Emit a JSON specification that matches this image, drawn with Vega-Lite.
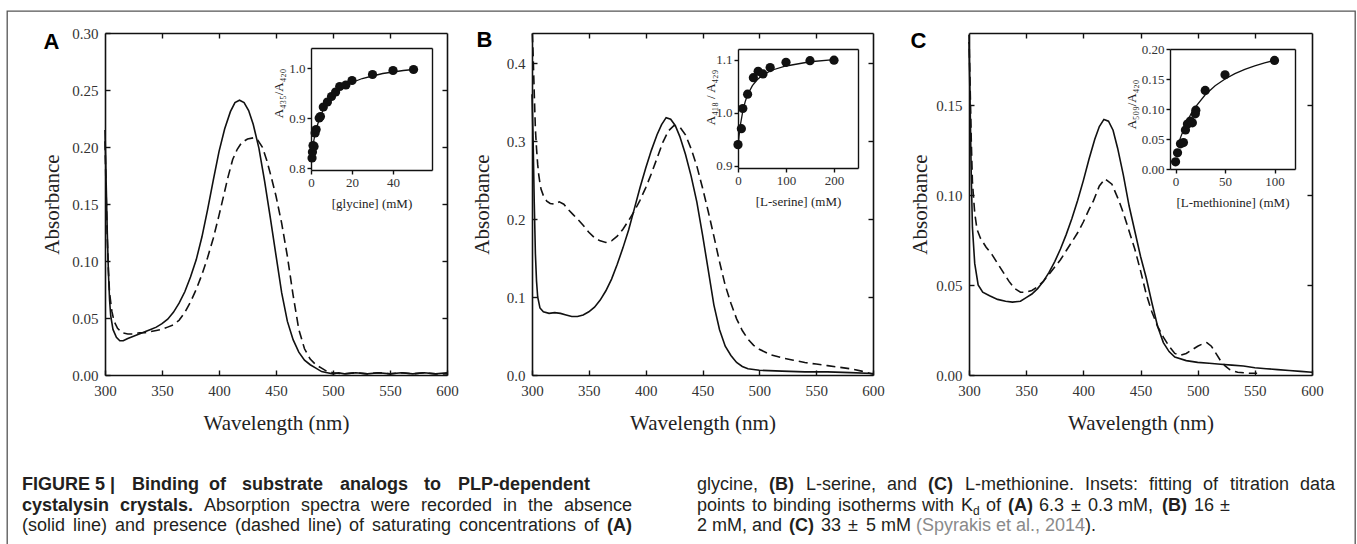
{
"$schema":"https://vega.github.io/schema/vega-lite/v6.json",
"width":1348,"height":534,"autosize":"none",
"padding":{"left":7,"top":11,"right":2,"bottom":0},
"background":"white",
"config":{
 "view":{"stroke":"#555","strokeWidth":1.3},
 "axis":{"grid":false,"domainColor":"#111","domainWidth":1.6,"tickColor":"#111","tickWidth":1.4,"tickSize":-5,"labelFont":"Liberation Serif","labelFontSize":15,"labelColor":"#333","labelPadding":13,"labelOverlap":false,"labelFlush":false,"labelBound":false,"titleFont":"Liberation Serif","titleFontWeight":"normal","titleColor":"#222","titleFontSize":21},
 "text":{"font":"Liberation Sans","fontSize":18,"align":"left","baseline":"alphabetic","color":"#231f20"}
},
"datasets":{
 "specA":[
{"wl":300,"a":0.215,"s":"absence"},{"wl":301,"a":0.17,"s":"absence"},{"wl":302,"a":0.125,"s":"absence"},{"wl":303,"a":0.09,"s":"absence"},{"wl":304,"a":0.066,"s":"absence"},{"wl":305,"a":0.052,"s":"absence"},{"wl":307,"a":0.04,"s":"absence"},{"wl":310,"a":0.033,"s":"absence"},{"wl":313,"a":0.03,"s":"absence"},{"wl":316,"a":0.03,"s":"absence"},{"wl":320,"a":0.032,"s":"absence"},{"wl":325,"a":0.034,"s":"absence"},{"wl":330,"a":0.036,"s":"absence"},{"wl":335,"a":0.038,"s":"absence"},{"wl":340,"a":0.04,"s":"absence"},{"wl":345,"a":0.042,"s":"absence"},{"wl":350,"a":0.045,"s":"absence"},{"wl":355,"a":0.049,"s":"absence"},{"wl":360,"a":0.055,"s":"absence"},{"wl":365,"a":0.063,"s":"absence"},{"wl":370,"a":0.073,"s":"absence"},{"wl":375,"a":0.086,"s":"absence"},{"wl":380,"a":0.101,"s":"absence"},{"wl":385,"a":0.121,"s":"absence"},{"wl":390,"a":0.145,"s":"absence"},{"wl":395,"a":0.171,"s":"absence"},{"wl":400,"a":0.196,"s":"absence"},{"wl":405,"a":0.216,"s":"absence"},{"wl":410,"a":0.231,"s":"absence"},{"wl":414,"a":0.239,"s":"absence"},{"wl":418,"a":0.241,"s":"absence"},{"wl":422,"a":0.239,"s":"absence"},{"wl":426,"a":0.232,"s":"absence"},{"wl":430,"a":0.22,"s":"absence"},{"wl":435,"a":0.199,"s":"absence"},{"wl":440,"a":0.17,"s":"absence"},{"wl":445,"a":0.138,"s":"absence"},{"wl":450,"a":0.105,"s":"absence"},{"wl":455,"a":0.072,"s":"absence"},{"wl":460,"a":0.047,"s":"absence"},{"wl":465,"a":0.031,"s":"absence"},{"wl":470,"a":0.02,"s":"absence"},{"wl":475,"a":0.013,"s":"absence"},{"wl":480,"a":0.009,"s":"absence"},{"wl":485,"a":0.006,"s":"absence"},{"wl":490,"a":0.003,"s":"absence"},{"wl":495,"a":0.002,"s":"absence"},{"wl":500,"a":0.001,"s":"absence"},{"wl":505,"a":0.002,"s":"absence"},{"wl":510,"a":0.001,"s":"absence"},{"wl":520,"a":0.002,"s":"absence"},{"wl":530,"a":0.001,"s":"absence"},{"wl":540,"a":0.002,"s":"absence"},{"wl":550,"a":0.001,"s":"absence"},{"wl":560,"a":0.002,"s":"absence"},{"wl":570,"a":0.001,"s":"absence"},{"wl":580,"a":0.002,"s":"absence"},{"wl":590,"a":0.001,"s":"absence"},{"wl":600,"a":0.002,"s":"absence"},
{"wl":300,"a":0.205,"s":"presence"},{"wl":301,"a":0.16,"s":"presence"},{"wl":302,"a":0.12,"s":"presence"},{"wl":303,"a":0.092,"s":"presence"},{"wl":304,"a":0.072,"s":"presence"},{"wl":306,"a":0.056,"s":"presence"},{"wl":308,"a":0.047,"s":"presence"},{"wl":311,"a":0.041,"s":"presence"},{"wl":315,"a":0.037,"s":"presence"},{"wl":320,"a":0.036,"s":"presence"},{"wl":325,"a":0.036,"s":"presence"},{"wl":330,"a":0.037,"s":"presence"},{"wl":335,"a":0.037,"s":"presence"},{"wl":340,"a":0.038,"s":"presence"},{"wl":345,"a":0.039,"s":"presence"},{"wl":350,"a":0.04,"s":"presence"},{"wl":355,"a":0.042,"s":"presence"},{"wl":360,"a":0.044,"s":"presence"},{"wl":365,"a":0.048,"s":"presence"},{"wl":370,"a":0.055,"s":"presence"},{"wl":375,"a":0.064,"s":"presence"},{"wl":380,"a":0.075,"s":"presence"},{"wl":385,"a":0.088,"s":"presence"},{"wl":390,"a":0.103,"s":"presence"},{"wl":395,"a":0.12,"s":"presence"},{"wl":400,"a":0.14,"s":"presence"},{"wl":404,"a":0.157,"s":"presence"},{"wl":408,"a":0.174,"s":"presence"},{"wl":412,"a":0.189,"s":"presence"},{"wl":416,"a":0.198,"s":"presence"},{"wl":420,"a":0.204,"s":"presence"},{"wl":425,"a":0.207,"s":"presence"},{"wl":430,"a":0.208,"s":"presence"},{"wl":434,"a":0.206,"s":"presence"},{"wl":438,"a":0.2,"s":"presence"},{"wl":442,"a":0.188,"s":"presence"},{"wl":446,"a":0.173,"s":"presence"},{"wl":450,"a":0.157,"s":"presence"},{"wl":455,"a":0.133,"s":"presence"},{"wl":460,"a":0.104,"s":"presence"},{"wl":465,"a":0.07,"s":"presence"},{"wl":470,"a":0.04,"s":"presence"},{"wl":475,"a":0.023,"s":"presence"},{"wl":480,"a":0.014,"s":"presence"},{"wl":485,"a":0.009,"s":"presence"},{"wl":490,"a":0.006,"s":"presence"},{"wl":495,"a":0.003,"s":"presence"},{"wl":500,"a":0.002,"s":"presence"},{"wl":510,"a":0.001,"s":"presence"},{"wl":520,"a":0.002,"s":"presence"},{"wl":530,"a":0.001,"s":"presence"},{"wl":540,"a":0.002,"s":"presence"},{"wl":550,"a":0.001,"s":"presence"},{"wl":560,"a":0.002,"s":"presence"},{"wl":570,"a":0.001,"s":"presence"},{"wl":580,"a":0.002,"s":"presence"},{"wl":590,"a":0.001,"s":"presence"},{"wl":600,"a":0.001,"s":"presence"}
 ],
 "specB":[
{"wl":300,"a":0.36,"s":"absence"},{"wl":301,"a":0.3,"s":"absence"},{"wl":302,"a":0.22,"s":"absence"},{"wl":303,"a":0.155,"s":"absence"},{"wl":304,"a":0.12,"s":"absence"},{"wl":305,"a":0.1,"s":"absence"},{"wl":307,"a":0.086,"s":"absence"},{"wl":310,"a":0.081,"s":"absence"},{"wl":315,"a":0.079,"s":"absence"},{"wl":320,"a":0.08,"s":"absence"},{"wl":325,"a":0.079,"s":"absence"},{"wl":330,"a":0.077,"s":"absence"},{"wl":335,"a":0.075,"s":"absence"},{"wl":340,"a":0.075,"s":"absence"},{"wl":345,"a":0.077,"s":"absence"},{"wl":350,"a":0.081,"s":"absence"},{"wl":355,"a":0.087,"s":"absence"},{"wl":360,"a":0.096,"s":"absence"},{"wl":365,"a":0.108,"s":"absence"},{"wl":370,"a":0.123,"s":"absence"},{"wl":375,"a":0.142,"s":"absence"},{"wl":380,"a":0.163,"s":"absence"},{"wl":385,"a":0.186,"s":"absence"},{"wl":390,"a":0.213,"s":"absence"},{"wl":395,"a":0.24,"s":"absence"},{"wl":400,"a":0.265,"s":"absence"},{"wl":405,"a":0.288,"s":"absence"},{"wl":410,"a":0.308,"s":"absence"},{"wl":414,"a":0.321,"s":"absence"},{"wl":418,"a":0.33,"s":"absence"},{"wl":422,"a":0.328,"s":"absence"},{"wl":426,"a":0.32,"s":"absence"},{"wl":430,"a":0.306,"s":"absence"},{"wl":435,"a":0.283,"s":"absence"},{"wl":440,"a":0.255,"s":"absence"},{"wl":445,"a":0.222,"s":"absence"},{"wl":450,"a":0.18,"s":"absence"},{"wl":455,"a":0.135,"s":"absence"},{"wl":460,"a":0.09,"s":"absence"},{"wl":465,"a":0.058,"s":"absence"},{"wl":470,"a":0.037,"s":"absence"},{"wl":475,"a":0.025,"s":"absence"},{"wl":480,"a":0.016,"s":"absence"},{"wl":485,"a":0.011,"s":"absence"},{"wl":490,"a":0.008,"s":"absence"},{"wl":500,"a":0.006,"s":"absence"},{"wl":520,"a":0.005,"s":"absence"},{"wl":540,"a":0.004,"s":"absence"},{"wl":560,"a":0.004,"s":"absence"},{"wl":580,"a":0.003,"s":"absence"},{"wl":600,"a":0.002,"s":"absence"},
{"wl":300.3,"a":0.438,"s":"presence"},{"wl":301,"a":0.41,"s":"presence"},{"wl":302,"a":0.36,"s":"presence"},{"wl":303,"a":0.315,"s":"presence"},{"wl":304,"a":0.29,"s":"presence"},{"wl":305,"a":0.27,"s":"presence"},{"wl":306,"a":0.256,"s":"presence"},{"wl":307,"a":0.246,"s":"presence"},{"wl":308,"a":0.238,"s":"presence"},{"wl":310,"a":0.23,"s":"presence"},{"wl":313,"a":0.223,"s":"presence"},{"wl":316,"a":0.22,"s":"presence"},{"wl":320,"a":0.219,"s":"presence"},{"wl":324,"a":0.222,"s":"presence"},{"wl":328,"a":0.219,"s":"presence"},{"wl":332,"a":0.212,"s":"presence"},{"wl":336,"a":0.206,"s":"presence"},{"wl":340,"a":0.2,"s":"presence"},{"wl":345,"a":0.192,"s":"presence"},{"wl":350,"a":0.183,"s":"presence"},{"wl":355,"a":0.176,"s":"presence"},{"wl":360,"a":0.172,"s":"presence"},{"wl":365,"a":0.17,"s":"presence"},{"wl":370,"a":0.172,"s":"presence"},{"wl":375,"a":0.178,"s":"presence"},{"wl":380,"a":0.187,"s":"presence"},{"wl":385,"a":0.198,"s":"presence"},{"wl":390,"a":0.21,"s":"presence"},{"wl":395,"a":0.224,"s":"presence"},{"wl":400,"a":0.24,"s":"presence"},{"wl":405,"a":0.258,"s":"presence"},{"wl":410,"a":0.278,"s":"presence"},{"wl":415,"a":0.298,"s":"presence"},{"wl":420,"a":0.313,"s":"presence"},{"wl":425,"a":0.32,"s":"presence"},{"wl":430,"a":0.318,"s":"presence"},{"wl":435,"a":0.308,"s":"presence"},{"wl":440,"a":0.29,"s":"presence"},{"wl":445,"a":0.268,"s":"presence"},{"wl":450,"a":0.24,"s":"presence"},{"wl":455,"a":0.21,"s":"presence"},{"wl":460,"a":0.178,"s":"presence"},{"wl":465,"a":0.145,"s":"presence"},{"wl":470,"a":0.115,"s":"presence"},{"wl":475,"a":0.092,"s":"presence"},{"wl":480,"a":0.072,"s":"presence"},{"wl":485,"a":0.057,"s":"presence"},{"wl":490,"a":0.046,"s":"presence"},{"wl":495,"a":0.038,"s":"presence"},{"wl":500,"a":0.033,"s":"presence"},{"wl":510,"a":0.026,"s":"presence"},{"wl":520,"a":0.022,"s":"presence"},{"wl":530,"a":0.019,"s":"presence"},{"wl":540,"a":0.016,"s":"presence"},{"wl":550,"a":0.014,"s":"presence"},{"wl":560,"a":0.012,"s":"presence"},{"wl":570,"a":0.01,"s":"presence"},{"wl":580,"a":0.008,"s":"presence"},{"wl":590,"a":0.005,"s":"presence"},{"wl":600,"a":0.001,"s":"presence"}
 ],
 "specC":[
{"wl":300,"a":0.185,"s":"absence"},{"wl":301,"a":0.15,"s":"absence"},{"wl":302,"a":0.11,"s":"absence"},{"wl":303,"a":0.082,"s":"absence"},{"wl":305,"a":0.062,"s":"absence"},{"wl":308,"a":0.05,"s":"absence"},{"wl":312,"a":0.046,"s":"absence"},{"wl":318,"a":0.044,"s":"absence"},{"wl":325,"a":0.042,"s":"absence"},{"wl":332,"a":0.041,"s":"absence"},{"wl":338,"a":0.0405,"s":"absence"},{"wl":345,"a":0.041,"s":"absence"},{"wl":350,"a":0.043,"s":"absence"},{"wl":355,"a":0.045,"s":"absence"},{"wl":360,"a":0.048,"s":"absence"},{"wl":365,"a":0.052,"s":"absence"},{"wl":370,"a":0.057,"s":"absence"},{"wl":375,"a":0.063,"s":"absence"},{"wl":380,"a":0.07,"s":"absence"},{"wl":385,"a":0.078,"s":"absence"},{"wl":390,"a":0.087,"s":"absence"},{"wl":395,"a":0.097,"s":"absence"},{"wl":400,"a":0.108,"s":"absence"},{"wl":405,"a":0.12,"s":"absence"},{"wl":410,"a":0.131,"s":"absence"},{"wl":414,"a":0.138,"s":"absence"},{"wl":418,"a":0.142,"s":"absence"},{"wl":422,"a":0.141,"s":"absence"},{"wl":426,"a":0.136,"s":"absence"},{"wl":430,"a":0.126,"s":"absence"},{"wl":435,"a":0.111,"s":"absence"},{"wl":440,"a":0.094,"s":"absence"},{"wl":445,"a":0.08,"s":"absence"},{"wl":450,"a":0.066,"s":"absence"},{"wl":455,"a":0.054,"s":"absence"},{"wl":460,"a":0.04,"s":"absence"},{"wl":465,"a":0.027,"s":"absence"},{"wl":470,"a":0.018,"s":"absence"},{"wl":475,"a":0.013,"s":"absence"},{"wl":480,"a":0.01,"s":"absence"},{"wl":490,"a":0.008,"s":"absence"},{"wl":500,"a":0.007,"s":"absence"},{"wl":510,"a":0.0065,"s":"absence"},{"wl":520,"a":0.006,"s":"absence"},{"wl":530,"a":0.0055,"s":"absence"},{"wl":540,"a":0.005,"s":"absence"},{"wl":550,"a":0.004,"s":"absence"},{"wl":560,"a":0.0035,"s":"absence"},{"wl":570,"a":0.003,"s":"absence"},{"wl":580,"a":0.0025,"s":"absence"},{"wl":590,"a":0.002,"s":"absence"},{"wl":600,"a":0.0015,"s":"absence"},
{"wl":300,"a":0.189,"s":"presence"},{"wl":301,"a":0.16,"s":"presence"},{"wl":302,"a":0.13,"s":"presence"},{"wl":303,"a":0.107,"s":"presence"},{"wl":305,"a":0.09,"s":"presence"},{"wl":307,"a":0.081,"s":"presence"},{"wl":310,"a":0.076,"s":"presence"},{"wl":315,"a":0.071,"s":"presence"},{"wl":320,"a":0.067,"s":"presence"},{"wl":325,"a":0.062,"s":"presence"},{"wl":330,"a":0.057,"s":"presence"},{"wl":335,"a":0.052,"s":"presence"},{"wl":340,"a":0.048,"s":"presence"},{"wl":345,"a":0.046,"s":"presence"},{"wl":350,"a":0.046,"s":"presence"},{"wl":355,"a":0.047,"s":"presence"},{"wl":360,"a":0.049,"s":"presence"},{"wl":365,"a":0.052,"s":"presence"},{"wl":370,"a":0.056,"s":"presence"},{"wl":375,"a":0.06,"s":"presence"},{"wl":380,"a":0.064,"s":"presence"},{"wl":385,"a":0.069,"s":"presence"},{"wl":390,"a":0.074,"s":"presence"},{"wl":395,"a":0.079,"s":"presence"},{"wl":400,"a":0.085,"s":"presence"},{"wl":405,"a":0.092,"s":"presence"},{"wl":409,"a":0.097,"s":"presence"},{"wl":414,"a":0.105,"s":"presence"},{"wl":419,"a":0.109,"s":"presence"},{"wl":425,"a":0.106,"s":"presence"},{"wl":431,"a":0.097,"s":"presence"},{"wl":435,"a":0.09,"s":"presence"},{"wl":440,"a":0.08,"s":"presence"},{"wl":445,"a":0.07,"s":"presence"},{"wl":450,"a":0.058,"s":"presence"},{"wl":455,"a":0.045,"s":"presence"},{"wl":460,"a":0.035,"s":"presence"},{"wl":465,"a":0.027,"s":"presence"},{"wl":470,"a":0.021,"s":"presence"},{"wl":475,"a":0.016,"s":"presence"},{"wl":480,"a":0.012,"s":"presence"},{"wl":485,"a":0.011,"s":"presence"},{"wl":490,"a":0.012,"s":"presence"},{"wl":495,"a":0.014,"s":"presence"},{"wl":500,"a":0.016,"s":"presence"},{"wl":505,"a":0.0175,"s":"presence"},{"wl":508,"a":0.018,"s":"presence"},{"wl":512,"a":0.016,"s":"presence"},{"wl":516,"a":0.012,"s":"presence"},{"wl":520,"a":0.008,"s":"presence"},{"wl":524,"a":0.005,"s":"presence"},{"wl":528,"a":0.003,"s":"presence"},{"wl":535,"a":0.0015,"s":"presence"},{"wl":545,"a":0.001,"s":"presence"},{"wl":552,"a":0.001,"s":"presence"}
 ],
 "insA":[{"c":0.5,"r":0.82},{"c":0.7,"r":0.832},{"c":1,"r":0.845},{"c":1.5,"r":0.843},{"c":2,"r":0.87},{"c":2.5,"r":0.877},{"c":4,"r":0.9},{"c":4.6,"r":0.903},{"c":6,"r":0.922},{"c":8,"r":0.932},{"c":10,"r":0.943},{"c":12,"r":0.952},{"c":14,"r":0.963},{"c":17,"r":0.966},{"c":20,"r":0.975},{"c":30,"r":0.987},{"c":40,"r":0.995},{"c":50,"r":0.997}],
 "fitA":[{"c":0,"r":0.82},{"c":1,"r":0.847},{"c":2,"r":0.868},{"c":3,"r":0.884},{"c":4,"r":0.897},{"c":6,"r":0.917},{"c":8,"r":0.931},{"c":10,"r":0.942},{"c":13,"r":0.954},{"c":16,"r":0.963},{"c":20,"r":0.971},{"c":25,"r":0.979},{"c":30,"r":0.984},{"c":35,"r":0.989},{"c":40,"r":0.992},{"c":45,"r":0.995},{"c":50,"r":0.997}],
 "insB":[{"c":0,"r":0.94},{"c":7,"r":0.97},{"c":10,"r":1.008},{"c":20,"r":1.035},{"c":32,"r":1.066},{"c":42,"r":1.078},{"c":52,"r":1.073},{"c":67,"r":1.085},{"c":100,"r":1.095},{"c":150,"r":1.098},{"c":200,"r":1.099}],
 "fitB":[{"c":0,"r":0.935},{"c":2,"r":0.955},{"c":5,"r":0.977},{"c":10,"r":1.003},{"c":15,"r":1.021},{"c":20,"r":1.034},{"c":30,"r":1.051},{"c":40,"r":1.062},{"c":50,"r":1.07},{"c":70,"r":1.08},{"c":100,"r":1.088},{"c":150,"r":1.096},{"c":200,"r":1.1}],
 "insC":[{"c":0,"r":0.012},{"c":2,"r":0.027},{"c":5,"r":0.042},{"c":8,"r":0.044},{"c":10,"r":0.065},{"c":12,"r":0.075},{"c":15,"r":0.08},{"c":17,"r":0.077},{"c":20,"r":0.092},{"c":20.5,"r":0.098},{"c":30,"r":0.131},{"c":50,"r":0.157},{"c":100,"r":0.181}],
 "fitC":[{"c":2,"r":0.037},{"c":5,"r":0.0523},{"c":10,"r":0.0733},{"c":15,"r":0.0899},{"c":20,"r":0.1033},{"c":30,"r":0.1238},{"c":40,"r":0.1387},{"c":50,"r":0.15},{"c":60,"r":0.159},{"c":70,"r":0.166},{"c":80,"r":0.1719},{"c":90,"r":0.1768},{"c":100,"r":0.181}],
 "caption":[
  {"col":0,"line":0,"seg":"a0","text":"FIGURE 5 |"},{"col":0,"line":0,"seg":"a3","text":"Binding"},{"col":0,"line":0,"seg":"a4","text":"of"},{"col":0,"line":0,"seg":"a5","text":"substrate"},{"col":0,"line":0,"seg":"a6","text":"analogs"},{"col":0,"line":0,"seg":"a7","text":"to"},{"col":0,"line":0,"seg":"a8","text":"PLP-dependent"},
  {"col":0,"line":1,"seg":"b0","text":"cystalysin"},{"col":0,"line":1,"seg":"b1","text":"crystals."},{"col":0,"line":1,"seg":"b2","text":"Absorption"},{"col":0,"line":1,"seg":"b3","text":"spectra"},{"col":0,"line":1,"seg":"b4","text":"were"},{"col":0,"line":1,"seg":"b5","text":"recorded"},{"col":0,"line":1,"seg":"b6","text":"in"},{"col":0,"line":1,"seg":"b7","text":"the"},{"col":0,"line":1,"seg":"b8","text":"absence"},
  {"col":0,"line":2,"seg":"c0","text":"(solid"},{"col":0,"line":2,"seg":"c1","text":"line)"},{"col":0,"line":2,"seg":"c2","text":"and"},{"col":0,"line":2,"seg":"c3","text":"presence"},{"col":0,"line":2,"seg":"c4","text":"(dashed"},{"col":0,"line":2,"seg":"c5","text":"line)"},{"col":0,"line":2,"seg":"c6","text":"of"},{"col":0,"line":2,"seg":"c7","text":"saturating"},{"col":0,"line":2,"seg":"c8","text":"concentrations"},{"col":0,"line":2,"seg":"c9","text":"of"},{"col":0,"line":2,"seg":"c10","text":"(A)"},
  {"col":1,"line":0,"seg":"d0","text":"glycine,"},{"col":1,"line":0,"seg":"d1","text":"(B)"},{"col":1,"line":0,"seg":"d2","text":"L-serine,"},{"col":1,"line":0,"seg":"d3","text":"and"},{"col":1,"line":0,"seg":"d4","text":"(C)"},{"col":1,"line":0,"seg":"d5","text":"L-methionine."},{"col":1,"line":0,"seg":"d6","text":"Insets:"},{"col":1,"line":0,"seg":"d7","text":"fitting"},{"col":1,"line":0,"seg":"d8","text":"of"},{"col":1,"line":0,"seg":"d9","text":"titration"},{"col":1,"line":0,"seg":"d10","text":"data"},
  {"col":1,"line":1,"seg":"e0","text":"points"},{"col":1,"line":1,"seg":"e1","text":"to"},{"col":1,"line":1,"seg":"e2","text":"binding"},{"col":1,"line":1,"seg":"e3","text":"isotherms"},{"col":1,"line":1,"seg":"e4","text":"with"},{"col":1,"line":1,"seg":"e5","text":"K"},{"col":1,"line":1,"seg":"e6","text":"d"},{"col":1,"line":1,"seg":"e7","text":"of"},{"col":1,"line":1,"seg":"e8","text":"(A)"},{"col":1,"line":1,"seg":"e9","text":"6.3"},{"col":1,"line":1,"seg":"e10","text":"±"},{"col":1,"line":1,"seg":"e11","text":"0.3 mM,"},{"col":1,"line":1,"seg":"e12","text":"(B)"},{"col":1,"line":1,"seg":"e13","text":"16"},{"col":1,"line":1,"seg":"e14","text":"±"},
  {"col":1,"line":2,"seg":"f0","text":"2 mM,"},{"col":1,"line":2,"seg":"f1","text":"and"},{"col":1,"line":2,"seg":"f2","text":"(C)"},{"col":1,"line":2,"seg":"f3","text":"33"},{"col":1,"line":2,"seg":"f4","text":"±"},{"col":1,"line":2,"seg":"f5","text":"5 mM"},{"col":1,"line":2,"seg":"f6","text":"(Spyrakis et al., 2014"},{"col":1,"line":2,"seg":"f7","text":")."}
 ]
},
"layer":[
 {"data":{"name":"specA"},"resolve":{"axis":{"x":"independent","y":"independent"}},
  "layer":[
   {"transform":[{"filter":"datum.s=='absence'"}],"mark":{"type":"line","stroke":"#111","strokeWidth":1.6},
    "encoding":{
     "x":{"field":"wl","type":"quantitative","scale":{"domain":[300,600],"range":[98,440],"nice":false,"zero":false},"axis":{"orient":"bottom","offset":-170,"values":[300,350,400,450,500,550,600],"format":"d","title":"Wavelength (nm)","titleY":48,"titleBaseline":"middle"}},
     "y":{"field":"a","type":"quantitative","scale":{"domain":[0,0.3],"range":[364,22],"nice":false,"zero":false},"axis":{"orient":"left","offset":-98,"values":[0,0.05,0.1,0.15,0.2,0.25,0.3],"format":".2f","labelPadding":12,"title":"Absorbance","titleX":-53,"titleAngle":270,"titleBaseline":"middle"}}}},
   {"transform":[{"filter":"datum.s=='presence'"}],"mark":{"type":"line","stroke":"#111","strokeWidth":1.6,"strokeDash":[9,5]},
    "encoding":{
     "x":{"field":"wl","type":"quantitative","scale":{"domain":[300,600],"range":[98,440],"nice":false,"zero":false},"axis":{"orient":"top","offset":-22,"values":[350,400,450,500,550],"labels":false,"title":"A","titleX":44,"titleY":8,"titleFont":"Liberation Sans","titleFontWeight":"bold","titleFontSize":22,"titleColor":"#000","titleAngle":0,"titleBaseline":"middle","titleAlign":"center"}},
     "y":{"field":"a","type":"quantitative","scale":{"domain":[0,0.3],"range":[364,22],"nice":false,"zero":false},"axis":{"orient":"right","offset":-908,"values":[0.05,0.1,0.15,0.2,0.25],"labels":false,"title":null}}}}
  ]},
 {"resolve":{"axis":{"x":"independent","y":"independent"}},
  "layer":[
   {"data":{"name":"insA"},"mark":{"type":"circle","size":85,"color":"#111","opacity":1},
    "encoding":{
     "x":{"field":"c","type":"quantitative","scale":{"domain":[0,59],"range":[304,425],"nice":false,"zero":false},"axis":{"orient":"bottom","offset":-375,"values":[0,20,40],"format":"d","tickSize":4,"labelPadding":2,"labelFontSize":13,"domainWidth":1.4,"title":"[glycine] (mM)","titleFontSize":13,"titleY":33,"titleBaseline":"middle"}},
     "y":{"field":"r","type":"quantitative","scale":{"domain":[0.796,1.04],"range":[159,37],"nice":false,"zero":false},"axis":{"orient":"left","offset":-304,"values":[0.8,0.9,1.0],"format":".1f","tickSize":4,"labelPadding":2,"labelFontSize":13,"domainWidth":1.4,"title":"A₄₃₅/A₄₂₀","titleFontSize":13,"titleX":-33,"titleY":82,"titleAngle":270,"titleBaseline":"middle"}}}},
   {"data":{"name":"fitA"},"mark":{"type":"line","stroke":"#111","strokeWidth":1.3},
    "encoding":{
     "x":{"field":"c","type":"quantitative","scale":{"domain":[0,59],"range":[304,425],"nice":false,"zero":false},"axis":{"orient":"top","offset":-37,"ticks":false,"labels":false,"domainWidth":1.4,"title":null}},
     "y":{"field":"r","type":"quantitative","scale":{"domain":[0.796,1.04],"range":[159,37],"nice":false,"zero":false},"axis":{"orient":"right","offset":-923,"ticks":false,"labels":false,"domainWidth":1.4,"title":null}}}}
  ]},
 {"data":{"name":"specB"},"resolve":{"axis":{"x":"independent","y":"independent"}},
  "layer":[
   {"transform":[{"filter":"datum.s=='absence'"}],"mark":{"type":"line","stroke":"#111","strokeWidth":1.6},
    "encoding":{
     "x":{"field":"wl","type":"quantitative","scale":{"domain":[300,600],"range":[525,866],"nice":false,"zero":false},"axis":{"orient":"bottom","offset":-170,"values":[300,350,400,450,500,550,600],"format":"d","title":"Wavelength (nm)","titleY":48,"titleBaseline":"middle"}},
     "y":{"field":"a","type":"quantitative","scale":{"domain":[0,0.4385],"range":[364,22],"nice":false,"zero":false},"axis":{"orient":"left","offset":-525,"values":[0,0.1,0.2,0.3,0.4],"format":".1f","labelPadding":12,"title":"Absorbance","titleX":-50,"titleAngle":270,"titleBaseline":"middle"}}}},
   {"transform":[{"filter":"datum.s=='presence'"}],"mark":{"type":"line","stroke":"#111","strokeWidth":1.6,"strokeDash":[9,5]},
    "encoding":{
     "x":{"field":"wl","type":"quantitative","scale":{"domain":[300,600],"range":[525,866],"nice":false,"zero":false},"axis":{"orient":"top","offset":-22,"values":[350,400,450,500,550],"labels":false,"title":"B","titleX":477,"titleY":6,"titleFont":"Liberation Sans","titleFontWeight":"bold","titleFontSize":22,"titleColor":"#000","titleAngle":0,"titleBaseline":"middle","titleAlign":"center"}},
     "y":{"field":"a","type":"quantitative","scale":{"domain":[0,0.4385],"range":[364,22],"nice":false,"zero":false},"axis":{"orient":"right","offset":-482,"values":[0.1,0.2,0.3,0.4],"labels":false,"title":null}}}}
  ]},
 {"resolve":{"axis":{"x":"independent","y":"independent"}},
  "layer":[
   {"data":{"name":"insB"},"mark":{"type":"circle","size":85,"color":"#111","opacity":1},
    "encoding":{
     "x":{"field":"c","type":"quantitative","scale":{"domain":[0,250],"range":[731,851],"nice":false,"zero":false},"axis":{"orient":"bottom","offset":-377,"values":[0,100,200],"format":"d","tickSize":4,"labelPadding":2,"labelFontSize":13,"domainWidth":1.4,"title":"[L-serine] (mM)","titleFontSize":13,"titleY":33,"titleBaseline":"middle"}},
     "y":{"field":"r","type":"quantitative","scale":{"domain":[0.896,1.12],"range":[157,38],"nice":false,"zero":false},"axis":{"orient":"left","offset":-731,"values":[0.9,1.0,1.1],"format":".1f","tickSize":4,"labelPadding":2,"labelFontSize":13,"domainWidth":1.4,"title":"A₄₁₈ / A₄₂₉","titleFontSize":13,"titleX":-28,"titleY":86,"titleAngle":270,"titleBaseline":"middle"}}}},
   {"data":{"name":"fitB"},"mark":{"type":"line","stroke":"#111","strokeWidth":1.3},
    "encoding":{
     "x":{"field":"c","type":"quantitative","scale":{"domain":[0,250],"range":[731,851],"nice":false,"zero":false},"axis":{"orient":"top","offset":-38,"ticks":false,"labels":false,"domainWidth":1.4,"title":null}},
     "y":{"field":"r","type":"quantitative","scale":{"domain":[0.896,1.12],"range":[157,38],"nice":false,"zero":false},"axis":{"orient":"right","offset":-497,"ticks":false,"labels":false,"domainWidth":1.4,"title":null}}}}
  ]},
 {"data":{"name":"specC"},"resolve":{"axis":{"x":"independent","y":"independent"}},
  "layer":[
   {"transform":[{"filter":"datum.s=='absence'"}],"mark":{"type":"line","stroke":"#111","strokeWidth":1.6},
    "encoding":{
     "x":{"field":"wl","type":"quantitative","scale":{"domain":[300,600],"range":[962,1305],"nice":false,"zero":false},"axis":{"orient":"bottom","offset":-170,"values":[300,350,400,450,500,550,600],"format":"d","title":"Wavelength (nm)","titleY":48,"titleBaseline":"middle"}},
     "y":{"field":"a","type":"quantitative","scale":{"domain":[0,0.19],"range":[364,22],"nice":false,"zero":false},"axis":{"orient":"left","offset":-962,"values":[0,0.05,0.1,0.15],"format":".2f","labelPadding":12,"title":"Absorbance","titleX":-49,"titleAngle":270,"titleBaseline":"middle"}}}},
   {"transform":[{"filter":"datum.s=='presence'"}],"mark":{"type":"line","stroke":"#111","strokeWidth":1.6,"strokeDash":[9,5]},
    "encoding":{
     "x":{"field":"wl","type":"quantitative","scale":{"domain":[300,600],"range":[962,1305],"nice":false,"zero":false},"axis":{"orient":"top","offset":-22,"values":[350,400,450,500,550],"labels":false,"title":"C","titleX":911,"titleY":7,"titleFont":"Liberation Sans","titleFontWeight":"bold","titleFontSize":22,"titleColor":"#000","titleAngle":0,"titleBaseline":"middle","titleAlign":"center"}},
     "y":{"field":"a","type":"quantitative","scale":{"domain":[0,0.19],"range":[364,22],"nice":false,"zero":false},"axis":{"orient":"right","offset":-43,"values":[0.05,0.1,0.15],"labels":false,"title":null}}}}
  ]},
 {"resolve":{"axis":{"x":"independent","y":"independent"}},
  "layer":[
   {"data":{"name":"insC"},"mark":{"type":"circle","size":85,"color":"#111","opacity":1},
    "encoding":{
     "x":{"field":"c","type":"quantitative","scale":{"domain":[-5.6,120.7],"range":[1163,1288],"nice":false,"zero":false},"axis":{"orient":"bottom","offset":-376,"values":[0,50,100],"format":"d","tickSize":4,"labelPadding":2,"labelFontSize":13,"domainWidth":1.4,"title":"[L-methionine] (mM)","titleFontSize":13,"titleY":33,"titleBaseline":"middle"}},
     "y":{"field":"r","type":"quantitative","scale":{"domain":[0,0.2],"range":[158,38],"nice":false,"zero":false},"axis":{"orient":"left","offset":-1163,"values":[0,0.05,0.1,0.15,0.2],"format":".2f","tickSize":4,"labelPadding":2,"labelFontSize":13,"domainWidth":1.4,"title":"A₅₀₉/A₄₂₀","titleFontSize":13,"titleX":-39,"titleY":93,"titleAngle":270,"titleBaseline":"middle"}}}},
   {"data":{"name":"fitC"},"mark":{"type":"line","stroke":"#111","strokeWidth":1.3},
    "encoding":{
     "x":{"field":"c","type":"quantitative","scale":{"domain":[-5.6,120.7],"range":[1163,1288],"nice":false,"zero":false},"axis":{"orient":"top","offset":-38,"ticks":false,"labels":false,"domainWidth":1.4,"title":null}},
     "y":{"field":"r","type":"quantitative","scale":{"domain":[0,0.2],"range":[158,38],"nice":false,"zero":false},"axis":{"orient":"right","offset":-60,"ticks":false,"labels":false,"domainWidth":1.4,"title":null}}}}
  ]},
 {"data":{"name":"caption"},
  "encoding":{
   "x":{"field":"col","type":"quantitative","scale":{"domain":[0,1],"range":[15,690],"nice":false,"zero":false},"axis":null},
   "y":{"field":"line","type":"quantitative","scale":{"domain":[0,2],"range":[479,520],"nice":false,"zero":false},"axis":null},
   "text":{"field":"text"}},
  "layer":[
   {"transform":[{"filter":"datum.seg=='a0' || datum.seg=='b0'"}],"mark":{"type":"text","fontWeight":"bold"}},
   {"transform":[{"filter":"datum.seg=='c0' || datum.seg=='d0' || datum.seg=='e0' || datum.seg=='f0'"}],"mark":{"type":"text"}},
   {"transform":[{"filter":"datum.seg=='a3'"}],"mark":{"type":"text","fontWeight":"bold","dx":110}},
   {"transform":[{"filter":"datum.seg=='a4'"}],"mark":{"type":"text","fontWeight":"bold","dx":187}},
   {"transform":[{"filter":"datum.seg=='a5'"}],"mark":{"type":"text","fontWeight":"bold","dx":220}},
   {"transform":[{"filter":"datum.seg=='a6'"}],"mark":{"type":"text","fontWeight":"bold","dx":318}},
   {"transform":[{"filter":"datum.seg=='a7'"}],"mark":{"type":"text","fontWeight":"bold","dx":402}},
   {"transform":[{"filter":"datum.seg=='a8'"}],"mark":{"type":"text","fontWeight":"bold","dx":436}},
   {"transform":[{"filter":"datum.seg=='b1'"}],"mark":{"type":"text","fontWeight":"bold","dx":98}},
   {"transform":[{"filter":"datum.seg=='b2'"}],"mark":{"type":"text","dx":182}},
   {"transform":[{"filter":"datum.seg=='b3'"}],"mark":{"type":"text","dx":279}},
   {"transform":[{"filter":"datum.seg=='b4'"}],"mark":{"type":"text","dx":349}},
   {"transform":[{"filter":"datum.seg=='b5'"}],"mark":{"type":"text","dx":399}},
   {"transform":[{"filter":"datum.seg=='b6'"}],"mark":{"type":"text","dx":481}},
   {"transform":[{"filter":"datum.seg=='b7'"}],"mark":{"type":"text","dx":506}},
   {"transform":[{"filter":"datum.seg=='b8'"}],"mark":{"type":"text","dx":542}},
   {"transform":[{"filter":"datum.seg=='c1'"}],"mark":{"type":"text","dx":51}},
   {"transform":[{"filter":"datum.seg=='c2'"}],"mark":{"type":"text","dx":93}},
   {"transform":[{"filter":"datum.seg=='c3'"}],"mark":{"type":"text","dx":131}},
   {"transform":[{"filter":"datum.seg=='c4'"}],"mark":{"type":"text","dx":213}},
   {"transform":[{"filter":"datum.seg=='c5'"}],"mark":{"type":"text","dx":286}},
   {"transform":[{"filter":"datum.seg=='c6'"}],"mark":{"type":"text","dx":327}},
   {"transform":[{"filter":"datum.seg=='c7'"}],"mark":{"type":"text","dx":350}},
   {"transform":[{"filter":"datum.seg=='c8'"}],"mark":{"type":"text","dx":437}},
   {"transform":[{"filter":"datum.seg=='c9'"}],"mark":{"type":"text","dx":562}},
   {"transform":[{"filter":"datum.seg=='c10'"}],"mark":{"type":"text","fontWeight":"bold","dx":585}},
   {"transform":[{"filter":"datum.seg=='d1'"}],"mark":{"type":"text","fontWeight":"bold","dx":72}},
   {"transform":[{"filter":"datum.seg=='d2'"}],"mark":{"type":"text","dx":109}},
   {"transform":[{"filter":"datum.seg=='d3'"}],"mark":{"type":"text","dx":190}},
   {"transform":[{"filter":"datum.seg=='d4'"}],"mark":{"type":"text","fontWeight":"bold","dx":231}},
   {"transform":[{"filter":"datum.seg=='d5'"}],"mark":{"type":"text","dx":268}},
   {"transform":[{"filter":"datum.seg=='d6'"}],"mark":{"type":"text","dx":388}},
   {"transform":[{"filter":"datum.seg=='d7'"}],"mark":{"type":"text","dx":452}},
   {"transform":[{"filter":"datum.seg=='d8'"}],"mark":{"type":"text","dx":506}},
   {"transform":[{"filter":"datum.seg=='d9'"}],"mark":{"type":"text","dx":533}},
   {"transform":[{"filter":"datum.seg=='d10'"}],"mark":{"type":"text","dx":603}},
   {"transform":[{"filter":"datum.seg=='e1'"}],"mark":{"type":"text","dx":55}},
   {"transform":[{"filter":"datum.seg=='e2'"}],"mark":{"type":"text","dx":76}},
   {"transform":[{"filter":"datum.seg=='e3'"}],"mark":{"type":"text","dx":141}},
   {"transform":[{"filter":"datum.seg=='e4'"}],"mark":{"type":"text","dx":225}},
   {"transform":[{"filter":"datum.seg=='e5'"}],"mark":{"type":"text","dx":264}},
   {"transform":[{"filter":"datum.seg=='e6'"}],"mark":{"type":"text","dx":276,"dy":4,"fontSize":12}},
   {"transform":[{"filter":"datum.seg=='e7'"}],"mark":{"type":"text","dx":289}},
   {"transform":[{"filter":"datum.seg=='e8'"}],"mark":{"type":"text","fontWeight":"bold","dx":311}},
   {"transform":[{"filter":"datum.seg=='e9'"}],"mark":{"type":"text","dx":342}},
   {"transform":[{"filter":"datum.seg=='e10'"}],"mark":{"type":"text","dx":374}},
   {"transform":[{"filter":"datum.seg=='e11'"}],"mark":{"type":"text","dx":391}},
   {"transform":[{"filter":"datum.seg=='e12'"}],"mark":{"type":"text","fontWeight":"bold","dx":465}},
   {"transform":[{"filter":"datum.seg=='e13'"}],"mark":{"type":"text","dx":497}},
   {"transform":[{"filter":"datum.seg=='e14'"}],"mark":{"type":"text","dx":523}},
   {"transform":[{"filter":"datum.seg=='f1'"}],"mark":{"type":"text","dx":55}},
   {"transform":[{"filter":"datum.seg=='f2'"}],"mark":{"type":"text","fontWeight":"bold","dx":92}},
   {"transform":[{"filter":"datum.seg=='f3'"}],"mark":{"type":"text","dx":124}},
   {"transform":[{"filter":"datum.seg=='f4'"}],"mark":{"type":"text","dx":151}},
   {"transform":[{"filter":"datum.seg=='f5'"}],"mark":{"type":"text","dx":169}},
   {"transform":[{"filter":"datum.seg=='f6'"}],"mark":{"type":"text","dx":219,"color":"#8a8a8a"}},
   {"transform":[{"filter":"datum.seg=='f7'"}],"mark":{"type":"text","dx":388}}
  ]}
],
"resolve":{"scale":{"x":"independent","y":"independent"},"axis":{"x":"independent","y":"independent"}}
}
